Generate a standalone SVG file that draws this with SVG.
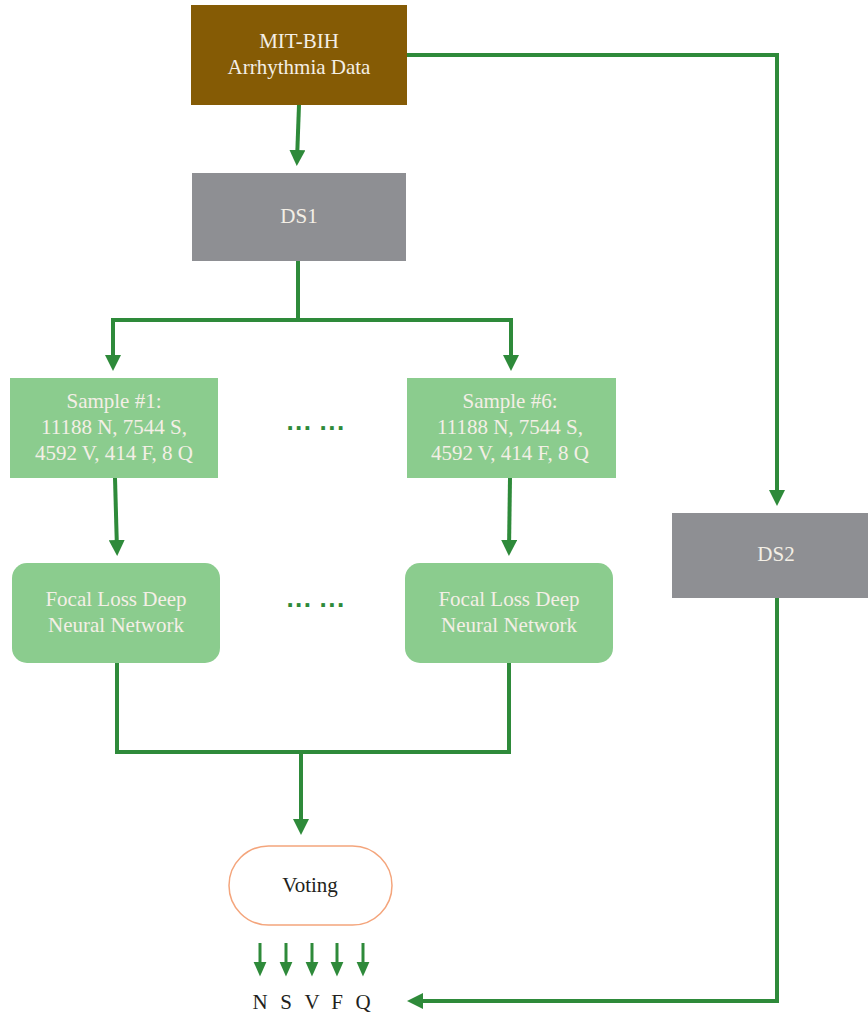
<svg xmlns="http://www.w3.org/2000/svg" width="868" height="1015" viewBox="0 0 868 1015">
<style>
.t{font-family:"Liberation Serif","DejaVu Serif",serif;font-size:21px;fill:#f4efe6;text-anchor:middle}
.d{font-family:"Liberation Serif","DejaVu Serif",serif;font-size:21px;fill:#231f20;text-anchor:middle}
.c{fill:none;stroke:#2e8a3a;stroke-width:4}
.s{fill:none;stroke:#2e8a3a;stroke-width:3}
.g{fill:#8bcc8e}
.dots{font-family:"Liberation Sans",sans-serif;font-size:26px;font-weight:bold;fill:#2e8a3a;text-anchor:middle}
</style>
<defs>
<marker id="a" markerWidth="4" markerHeight="4" refX="2.5" refY="2" orient="auto" markerUnits="strokeWidth" viewBox="0 0 4 4"><path d="M0,0 L4,2 L0,4 Z" fill="#2e8a3a"/></marker>
<marker id="b" markerWidth="5" markerHeight="5" refX="3.5" refY="2.5" orient="auto" markerUnits="strokeWidth" viewBox="0 0 5 5"><path d="M0,0.3 L5,2.5 L0,4.7 Z" fill="#2e8a3a"/></marker>
</defs>
<rect width="868" height="1015" fill="#fff"/>
<g id="connectors">
<path class="c" d="M407,55 H777 V500" marker-end="url(#a)"/>
<path class="c" d="M299,105 L297,160" marker-end="url(#a)"/>
<path class="c" d="M298,261 V320 H113 V365" marker-end="url(#a)"/>
<path class="c" d="M298,320 H511 V365" marker-end="url(#a)"/>
<path class="c" d="M115,478 L117,550" marker-end="url(#a)"/>
<path class="c" d="M510,478 L509,550" marker-end="url(#a)"/>
<path class="c" d="M117,663 V752 H509 V663"/>
<path class="c" d="M301,752 V829" marker-end="url(#a)"/>
<path class="c" d="M777,598 V1001 H413" marker-end="url(#a)"/>
<path class="s" d="M260,943 V972" marker-end="url(#b)"/>
<path class="s" d="M286,943 V972" marker-end="url(#b)"/>
<path class="s" d="M312,943 V972" marker-end="url(#b)"/>
<path class="s" d="M337,943 V972" marker-end="url(#b)"/>
<path class="s" d="M363,943 V972" marker-end="url(#b)"/>
</g>
<g id="mitbih">
<rect x="191" y="5" width="216" height="100" fill="#855b05"/>
<text class="t" x="299" y="48">MIT-BIH</text>
<text class="t" x="299" y="74">Arrhythmia Data</text>
</g>
<g id="ds1">
<rect x="192" y="173" width="214" height="88" fill="#8e8f93"/>
<text class="t" x="299" y="223">DS1</text>
</g>
<g id="sample1">
<rect class="g" x="10" y="378" width="208" height="100"/>
<text class="t" x="114" y="408">Sample #1:</text>
<text class="t" x="114" y="434">11188 N, 7544 S,</text>
<text class="t" x="114" y="460">4592 V, 414 F, 8 Q</text>
</g>
<g id="sample6">
<rect class="g" x="407" y="378" width="209" height="100"/>
<text class="t" x="510" y="408">Sample #6:</text>
<text class="t" x="510" y="434">11188 N, 7544 S,</text>
<text class="t" x="510" y="460">4592 V, 414 F, 8 Q</text>
</g>
<g id="dots1"><text class="dots" x="316" y="437">··· ···</text></g>
<g id="focal1">
<rect class="g" x="12" y="563" width="208" height="100" rx="15"/>
<text class="t" x="116" y="606">Focal Loss Deep</text>
<text class="t" x="116" y="632">Neural Network</text>
</g>
<g id="focal6">
<rect class="g" x="405" y="563" width="208" height="100" rx="15"/>
<text class="t" x="509" y="606">Focal Loss Deep</text>
<text class="t" x="509" y="632">Neural Network</text>
</g>
<g id="dots2"><text class="dots" x="316" y="614">··· ···</text></g>
<g id="ds2">
<rect x="672" y="513" width="196" height="85" fill="#8e8f93"/>
<text class="t" x="776" y="561">DS2</text>
</g>
<g id="voting">
<rect x="229" y="846" width="163" height="79" rx="39.5" fill="#fff" stroke="#f4a57c" stroke-width="1.5"/>
<text class="d" x="310" y="892">Voting</text>
</g>
<g id="labels">
<text class="d" x="260" y="1009">N</text>
<text class="d" x="286" y="1009">S</text>
<text class="d" x="312" y="1009">V</text>
<text class="d" x="337" y="1009">F</text>
<text class="d" x="363" y="1009">Q</text>
</g>
</svg>
